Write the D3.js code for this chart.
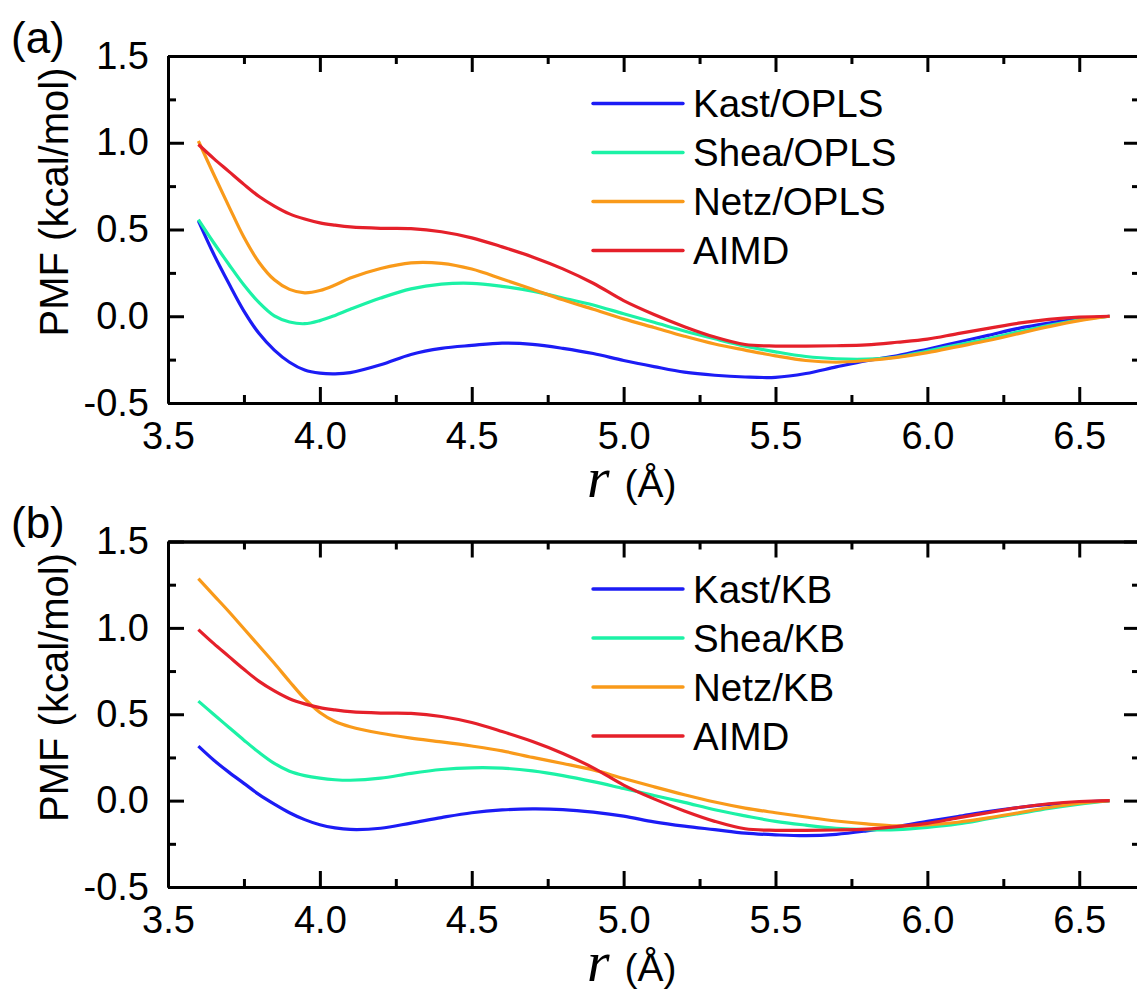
<!DOCTYPE html>
<html>
<head>
<meta charset="utf-8">
<script src="https://cdn.jsdelivr.net/npm/d3@7"></script>
<style>
  html, body { margin: 0; padding: 0; background: #fff; }
  svg { display: block; }
  text { font-family: "Liberation Sans", Arial, sans-serif; fill: #000; }
</style>
</head>
<body>
<svg id="chart" width="1137" height="990"></svg>
<script>
// ---------------- data ----------------
const r = [3.6,3.65,3.7,3.75,3.8,3.85,3.9,3.95,4.0,4.05,4.1,4.2,4.3,4.4,4.5,4.6,4.7,4.8,4.9,5.0,
           5.1,5.2,5.3,5.4,5.5,5.6,5.7,5.8,5.9,6.0,6.1,6.2,6.3,6.4,6.5,6.6];

// panel (a)
const kastOPLS = [0.55,0.36,0.19,0.03,-0.10,-0.195,-0.265,-0.31,-0.328,-0.332,-0.325,-0.28,-0.22,-0.185,-0.168,-0.155,-0.162,-0.185,-0.215,-0.255,
                  -0.29,-0.322,-0.34,-0.35,-0.352,-0.33,-0.292,-0.256,-0.228,-0.19,-0.15,-0.11,-0.07,-0.04,-0.015,0];
const sheaOPLS = [0.557,0.425,0.3,0.18,0.078,0.002,-0.033,-0.043,-0.025,0.005,0.04,0.105,0.158,0.185,0.19,0.172,0.145,0.105,0.065,0.014,
                  -0.035,-0.085,-0.13,-0.172,-0.205,-0.232,-0.245,-0.247,-0.235,-0.2,-0.165,-0.13,-0.09,-0.052,-0.02,0];
const netzOPLS = [1.01,0.82,0.635,0.455,0.31,0.21,0.155,0.135,0.148,0.18,0.22,0.275,0.308,0.305,0.272,0.215,0.155,0.095,0.04,-0.015,
                  -0.065,-0.115,-0.16,-0.195,-0.228,-0.255,-0.265,-0.255,-0.237,-0.21,-0.175,-0.14,-0.10,-0.06,-0.025,0];
// AIMD reference (both panels)
const aimd = [0.99,0.91,0.835,0.76,0.69,0.635,0.59,0.56,0.538,0.525,0.515,0.507,0.505,0.487,0.452,0.40,0.342,0.273,0.19,0.09,
              0.01,-0.06,-0.12,-0.163,-0.172,-0.172,-0.17,-0.165,-0.15,-0.132,-0.10,-0.07,-0.04,-0.018,-0.005,0];

// panel (b)
const kastKB = [0.315,0.235,0.165,0.10,0.035,-0.02,-0.07,-0.11,-0.14,-0.158,-0.167,-0.16,-0.13,-0.098,-0.07,-0.054,-0.048,-0.052,-0.067,-0.09,
                -0.123,-0.148,-0.168,-0.188,-0.198,-0.203,-0.195,-0.175,-0.15,-0.12,-0.092,-0.063,-0.04,-0.022,-0.01,0];
const sheaKB = [0.576,0.5,0.425,0.35,0.278,0.215,0.17,0.145,0.13,0.121,0.118,0.13,0.158,0.18,0.19,0.188,0.172,0.145,0.11,0.07,
                0.03,-0.01,-0.053,-0.088,-0.12,-0.142,-0.16,-0.168,-0.168,-0.155,-0.135,-0.105,-0.075,-0.045,-0.02,0];
const netzKB = [1.285,1.19,1.095,0.995,0.895,0.795,0.69,0.59,0.51,0.458,0.428,0.39,0.362,0.34,0.316,0.288,0.25,0.215,0.178,0.128,
                0.08,0.034,-0.008,-0.043,-0.07,-0.095,-0.118,-0.135,-0.146,-0.14,-0.125,-0.10,-0.07,-0.04,-0.015,0];

const xTicks = [3.5,4.0,4.5,5.0,5.5,6.0,6.5];
const xMinorTicks = [3.75,4.25,4.75,5.25,5.75,6.25];
const yTicks = [-0.5,0.0,0.5,1.0,1.5];
const yMinorTicks = [-0.25,0.25,0.75,1.25];

const seriesNamesA = ["Kast/OPLS","Shea/OPLS","Netz/OPLS","AIMD"];
const seriesNamesB = ["Kast/KB","Shea/KB","Netz/KB","AIMD"];
const colors = ["#1c1cf5","#1cf2a6","#f99a1a","#e5202a"];

// ---------------- layout ----------------
const svg = d3.select("#chart");
const left = 168, right = 1140;
const panels = [
  { label: "(a)", top: 56, bottom: 403, names: seriesNamesA, data: [kastOPLS, sheaOPLS, netzOPLS, aimd] },
  { label: "(b)", top: 541.5, bottom: 887, names: seriesNamesB, data: [kastKB, sheaKB, netzKB, aimd] }
];

const x = d3.scaleLinear().domain([3.5, 6.7]).range([left, right]);
const fmt = v => v.toFixed(1);
const FS = 38;

panels.forEach((p, pi) => {
  const y = d3.scaleLinear().domain([-0.5, 1.5]).range([p.bottom, p.top]);
  const g = svg.append("g");

  // curves
  const line = d3.line().x((d, i) => x(r[i])).y(d => y(d)).curve(d3.curveCatmullRom.alpha(0.5));
  p.data.forEach((vals, si) => {
    g.append("path").datum(vals)
      .attr("d", line)
      .attr("fill", "none")
      .attr("stroke", colors[si])
      .attr("stroke-width", 3.2)
      .attr("stroke-linejoin", "round");
  });

  // axes
  function styleAxis(sel) {
    sel.selectAll("path.domain").attr("stroke", "#000").attr("stroke-width", 3);
    sel.selectAll(".tick line").attr("stroke", "#000").attr("stroke-width", 3);
    sel.selectAll(".tick text").attr("font-size", FS).attr("font-family", '"Liberation Sans", Arial, sans-serif').attr("fill", "#000");
  }
  // bottom
  g.append("g").attr("transform", `translate(0,${p.bottom})`)
    .call(d3.axisBottom(x).tickValues(xTicks).tickFormat(fmt).tickSizeInner(-16).tickSizeOuter(0).tickPadding(19))
    .call(styleAxis);
  g.append("g").attr("transform", `translate(0,${p.bottom})`)
    .call(d3.axisBottom(x).tickValues(xMinorTicks).tickFormat("").tickSizeInner(-8).tickSizeOuter(0))
    .call(styleAxis);
  // top
  g.append("g").attr("transform", `translate(0,${p.top})`)
    .call(d3.axisTop(x).tickValues(xTicks).tickFormat("").tickSizeInner(-16).tickSizeOuter(0))
    .call(styleAxis);
  g.append("g").attr("transform", `translate(0,${p.top})`)
    .call(d3.axisTop(x).tickValues(xMinorTicks).tickFormat("").tickSizeInner(-8).tickSizeOuter(0))
    .call(styleAxis);
  // left
  g.append("g").attr("transform", `translate(${left},0)`)
    .call(d3.axisLeft(y).tickValues(yTicks).tickFormat(fmt).tickSizeInner(-16).tickSizeOuter(0).tickPadding(19))
    .call(styleAxis);
  g.append("g").attr("transform", `translate(${left},0)`)
    .call(d3.axisLeft(y).tickValues(yMinorTicks).tickFormat("").tickSizeInner(-8).tickSizeOuter(0))
    .call(styleAxis);
  // right
  g.append("g").attr("transform", `translate(${right},0)`)
    .call(d3.axisRight(y).tickValues(yTicks).tickFormat("").tickSizeInner(-16).tickSizeOuter(0))
    .call(styleAxis);
  g.append("g").attr("transform", `translate(${right},0)`)
    .call(d3.axisRight(y).tickValues(yMinorTicks).tickFormat("").tickSizeInner(-8).tickSizeOuter(0))
    .call(styleAxis);

  // legend
  const legTop = p.top + 47.5, legStep = 49;
  p.names.forEach((name, si) => {
    const ly = legTop + si * legStep;
    g.append("line").attr("x1", 593).attr("x2", 683).attr("y1", ly).attr("y2", ly)
      .attr("stroke", colors[si]).attr("stroke-width", 3.4).attr("stroke-linecap", "round");
    g.append("text").attr("x", 693).attr("y", ly + 13.5).attr("font-size", 38.5).text(name);
  });

  // panel label
  g.append("text").attr("x", 11).attr("y", p.top - 3.5).attr("font-size", 44).text(p.label);

  // y title
  const yc = p.top + 146;
  g.append("text").attr("transform", `translate(68,${yc}) rotate(-90)`)
    .attr("text-anchor", "middle").attr("font-size", 40).text("PMF (kcal/mol)");

  // x title
  const xt = g.append("text").attr("x", 587).attr("y", p.bottom + 94);
  xt.append("tspan").attr("font-family", '"Liberation Serif", "Times New Roman", serif')
    .attr("font-style", "italic").attr("font-size", 58).text("r");
  xt.append("tspan").attr("font-size", 39).attr("dx", 4).text(" (Å)");
});
</script>
</body>
</html>
